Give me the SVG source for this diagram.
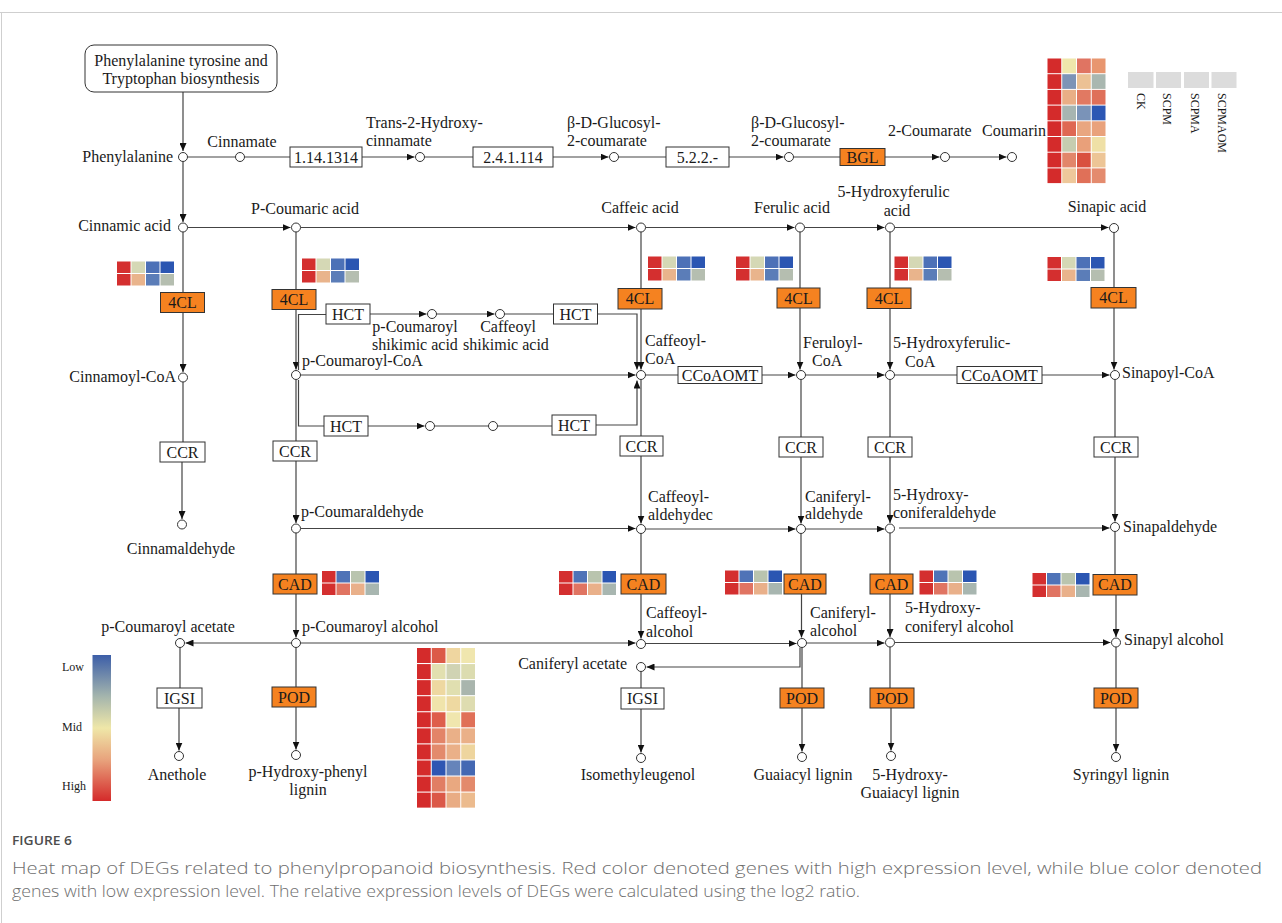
<svg xmlns="http://www.w3.org/2000/svg" xmlns:xlink="http://www.w3.org/1999/xlink" width="1282" height="923" viewBox="0 0 1282 923">
<style>
text{font-family:"Liberation Serif","Times New Roman",serif;font-size:16px;fill:#1a1a1a}
.c{text-anchor:middle}
.e{text-anchor:end}
.nd{fill:#fff;stroke:#333;stroke-width:1}
.bx{fill:#fff;stroke:#333;stroke-width:1}
.ob{fill:#f58220;stroke:#333;stroke-width:1}
.ln{fill:none;stroke:#444;stroke-width:1.2}
.ar{fill:none;stroke:#444;stroke-width:1.2;marker-end:url(#ah)}
.lg{font-size:12px}
.cap{font-family:"Open Sans","Liberation Sans",sans-serif;fill:#6e6e6e;font-size:16.5px;font-weight:300}
</style>
<defs>
<marker id="ah" markerWidth="8" markerHeight="7" refX="8" refY="3.5" orient="auto" markerUnits="userSpaceOnUse"><path d="M0,0L8,3.5L0,7z" fill="#111"/></marker>
<linearGradient id="cb" x1="0" y1="0" x2="0" y2="1">
<stop offset="0" stop-color="#3c5ea8"/><stop offset="0.28" stop-color="#a3b4ad"/><stop offset="0.5" stop-color="#efe7a8"/><stop offset="0.72" stop-color="#e8a27c"/><stop offset="1" stop-color="#d42a2a"/>
</linearGradient>
<g id="hm4cl">
<rect x="0" y="0" width="13.5" height="11.5" fill="#d42f2f"/><rect x="14.5" y="0" width="13.5" height="11.5" fill="#d5d8b5"/><rect x="29" y="0" width="13.5" height="11.5" fill="#4d71b7"/><rect x="43.5" y="0" width="13.5" height="11.5" fill="#2b56b2"/>
<rect x="0" y="12.5" width="13.5" height="11.5" fill="#d42f2f"/><rect x="14.5" y="12.5" width="13.5" height="11.5" fill="#e9b48c"/><rect x="29" y="12.5" width="13.5" height="11.5" fill="#5b7db8"/><rect x="43.5" y="12.5" width="13.5" height="11.5" fill="#b5beb0"/>
</g>
<g id="hmcad">
<rect x="0" y="0" width="13.5" height="11.5" fill="#d42f2f"/><rect x="14.5" y="0" width="13.5" height="11.5" fill="#4f73b7"/><rect x="29" y="0" width="13.5" height="11.5" fill="#b9c4ae"/><rect x="43.5" y="0" width="13.5" height="11.5" fill="#2b56b2"/>
<rect x="0" y="12.5" width="13.5" height="11.5" fill="#d42f2f"/><rect x="14.5" y="12.5" width="13.5" height="11.5" fill="#e07462"/><rect x="29" y="12.5" width="13.5" height="11.5" fill="#e9b08a"/><rect x="43.5" y="12.5" width="13.5" height="11.5" fill="#a8b6b0"/>
</g>
</defs>
<rect width="1282" height="923" fill="#fff"/>
<line x1="0" y1="12.5" x2="1282" y2="12.5" stroke="#cfcfcf" stroke-width="1"/>
<line x1="1.5" y1="12.5" x2="1.5" y2="923" stroke="#cfcfcf" stroke-width="1"/>

<g id="connectors">
<path class="ar" d="M183,92V151"/>
<path class="ln" d="M187.5,157H235.5"/>
<path class="ln" d="M244.5,157H290"/>
<path class="ar" d="M362,157H414.5"/>
<path class="ln" d="M424.5,157H473"/>
<path class="ar" d="M553,157H608.5"/>
<path class="ln" d="M618.5,157H666"/>
<path class="ar" d="M729,157H783.5"/>
<path class="ln" d="M793.5,157H840"/>
<path class="ar" d="M885,157H939.5"/>
<path class="ar" d="M949.5,157H1006.5"/>
<path class="ar" d="M183,161.5V222"/>
<path class="ar" d="M187.5,227.5H290.5"/>
<path class="ar" d="M300.5,227.5H635.5"/>
<path class="ar" d="M645.5,227.5H794.5"/>
<path class="ar" d="M804.5,227.5H884.5"/>
<path class="ar" d="M894.5,227.5H1108.5"/>
<path class="ln" d="M183,232V292.5"/>
<path class="ar" d="M183,312.5V372"/>
<path class="ln" d="M183,382V442"/>
<path class="ar" d="M182,462V519"/>
<path class="ln" d="M296,232V289.5"/>
<path class="ar" d="M296,309.5V369.5"/>
<path class="ln" d="M298.5,370V314.5H326"/>
<path class="ar" d="M370,314H426.5"/>
<path class="ar" d="M436.5,314H494.5"/>
<path class="ln" d="M504.5,314H553.5"/>
<path class="ar" d="M597.5,314H637V369.5"/>
<path class="ar" d="M300.5,375H635.5"/>
<path class="ln" d="M298.5,380V426H324"/>
<path class="ar" d="M368,426H424.5"/>
<path class="ln" d="M434.5,426H488.5"/>
<path class="ln" d="M497.5,426H552"/>
<path class="ar" d="M596,425H637V380.5"/>
<path class="ln" d="M296,379.5V441"/>
<path class="ar" d="M296,461V523"/>
<path class="ln" d="M296,533V574"/>
<path class="ar" d="M296,594V637.5"/>
<path class="ln" d="M296,647.5V687"/>
<path class="ar" d="M296,707V749.5"/>
<path class="ar" d="M291.5,643H185.5"/>
<path class="ln" d="M180,647.5V688"/>
<path class="ar" d="M179,708V750.5"/>
<path class="ln" d="M645.5,375H678"/>
<path class="ar" d="M762,375H795.5"/>
<path class="ar" d="M805.5,375H884.5"/>
<path class="ln" d="M894.5,375H957"/>
<path class="ar" d="M1042,375H1109.5"/>
<path class="ln" d="M641,232V288.5"/>
<path class="ar" d="M641,309V369.5"/>
<path class="ln" d="M641,379.5V436"/>
<path class="ar" d="M641,456V523.5"/>
<path class="ln" d="M641,533.5V574"/>
<path class="ar" d="M641,594V638.5"/>
<path class="ln" d="M641,671.5V688"/>
<path class="ar" d="M641,709V752.5"/>
<path class="ln" d="M800,232V288"/>
<path class="ar" d="M800,308V369.5"/>
<path class="ln" d="M801,379.5V437"/>
<path class="ar" d="M801,457V523.5"/>
<path class="ln" d="M801,533.5V574"/>
<path class="ar" d="M801.5,594V637.5"/>
<path class="ln" d="M802,647.5V688"/>
<path class="ar" d="M802,708V751.5"/>
<path class="ar" d="M800,647.5V667H646.5"/>
<path class="ln" d="M890,232V288"/>
<path class="ar" d="M890,308.5V369.5"/>
<path class="ln" d="M890,379.5V437"/>
<path class="ar" d="M890,457V523"/>
<path class="ln" d="M890,533V574"/>
<path class="ar" d="M890,594V637"/>
<path class="ln" d="M890,647V688"/>
<path class="ar" d="M891,708V750.5"/>
<path class="ln" d="M1114,232.5V287.5"/>
<path class="ar" d="M1114,308V369.5"/>
<path class="ln" d="M1115,379.5V437"/>
<path class="ar" d="M1115,457V521.5"/>
<path class="ln" d="M1115,531.5V574.5"/>
<path class="ar" d="M1116,595V637"/>
<path class="ln" d="M1116,647V688"/>
<path class="ar" d="M1116,708V751.5"/>
<path class="ar" d="M300.5,528.5H635.5"/>
<path class="ar" d="M645.5,529H795.5"/>
<path class="ar" d="M805.5,529H884.5"/>
<path class="ar" d="M899,528H1109.5"/>
<path class="ar" d="M300.5,643H635.5"/>
<path class="ar" d="M645.5,643.5H796.5"/>
<path class="ar" d="M806.5,643H884.5"/>
<path class="ar" d="M894.5,642.5H1110.5"/>
</g>

<g id="n-source"><rect x="85" y="45" width="192" height="47" rx="9" class="bx"/><text x="181" y="66" class="c">Phenylalanine tyrosine and</text><text x="181" y="84" class="c">Tryptophan biosynthesis</text></g>
<g id="n-phenylalanine"><circle cx="183" cy="157" r="4.5" class="nd"/><text x="173" y="162" class="e">Phenylalanine</text></g>
<g id="n-cinnamate"><circle cx="240" cy="157" r="4.5" class="nd"/><text x="242" y="147" class="c">Cinnamate</text></g>
<g id="e-11413"><rect x="290" y="147" width="72" height="20" class="bx"/><text x="326" y="162.5" class="c">1.14.1314</text></g>
<g id="n-trans2"><circle cx="420" cy="157" r="4.5" class="nd"/><text x="366" y="128">Trans-2-Hydroxy-</text><text x="366" y="146">cinnamate</text></g>
<g id="e-241114"><rect x="473" y="147" width="80" height="20" class="bx"/><text x="513" y="162.5" class="c">2.4.1.114</text></g>
<g id="n-glucosyl1"><circle cx="614" cy="157" r="4.5" class="nd"/><text x="567" y="128">β-D-Glucosyl-</text><text x="567" y="146">2-coumarate</text></g>
<g id="e-522"><rect x="666" y="147" width="63" height="20" class="bx"/><text x="697.5" y="162.5" class="c">5.2.2.-</text></g>
<g id="n-glucosyl2"><circle cx="789" cy="157" r="4.5" class="nd"/><text x="751" y="128">β-D-Glucosyl-</text><text x="751" y="146">2-coumarate</text></g>
<g id="e-bgl"><rect x="840" y="148.5" width="45" height="17" class="ob"/><text x="862.5" y="162.5" class="c">BGL</text></g>
<g id="n-2coumarate"><circle cx="945" cy="157" r="4.5" class="nd"/><text x="888" y="136">2-Coumarate</text></g>
<g id="n-coumarin"><circle cx="1012" cy="157" r="4.5" class="nd"/><text x="982" y="136">Coumarin</text></g>

<g id="n-cinnamic"><circle cx="183" cy="227.5" r="4.5" class="nd"/><text x="171" y="231" class="e">Cinnamic  acid</text></g>
<g id="n-pcoumaric"><circle cx="296" cy="227.5" r="4.5" class="nd"/><text x="305" y="214" class="c">P-Coumaric  acid</text></g>
<g id="n-caffeic"><circle cx="641" cy="227.5" r="4.5" class="nd"/><text x="640" y="213" class="c">Caffeic  acid</text></g>
<g id="n-ferulic"><circle cx="800" cy="227.5" r="4.5" class="nd"/><text x="792" y="213" class="c">Ferulic  acid</text></g>
<g id="n-5ohferulic"><circle cx="890" cy="227.5" r="4.5" class="nd"/><text x="893.5" y="197" class="c">5-Hydroxyferulic</text><text x="897" y="216" class="c">acid</text></g>
<g id="n-sinapic"><circle cx="1114" cy="228" r="4.5" class="nd"/><text x="1107" y="212" class="c">Sinapic  acid</text></g>

<g id="hm-4cl">
<use xlink:href="#hm4cl" x="117" y="261.5"/>
<use xlink:href="#hm4cl" x="302" y="258.5"/>
<use xlink:href="#hm4cl" x="648" y="256.5"/>
<use xlink:href="#hm4cl" x="736" y="256.5"/>
<use xlink:href="#hm4cl" x="894.5" y="256.5"/>
<use xlink:href="#hm4cl" x="1047.5" y="257"/>
</g>
<g id="e-4cl-a"><rect x="160.5" y="292.5" width="44" height="20" class="ob"/><text x="182.5" y="308" class="c">4CL</text></g>
<g id="e-4cl-b"><rect x="272" y="289.5" width="44" height="20" class="ob"/><text x="294" y="305" class="c">4CL</text></g>
<g id="e-4cl-c"><rect x="618" y="288.5" width="44" height="20.5" class="ob"/><text x="640" y="304" class="c">4CL</text></g>
<g id="e-4cl-d"><rect x="777" y="288" width="43" height="20" class="ob"/><text x="798.5" y="303.5" class="c">4CL</text></g>
<g id="e-4cl-e"><rect x="867" y="288" width="44" height="20.5" class="ob"/><text x="889" y="303.5" class="c">4CL</text></g>
<g id="e-4cl-f"><rect x="1091" y="287.5" width="45" height="20.5" class="ob"/><text x="1113.5" y="303" class="c">4CL</text></g>

<g id="e-hct1"><rect x="326" y="304" width="44" height="20" class="bx"/><text x="348" y="319.5" class="c">HCT</text></g>
<g id="n-pcoumaroylshik"><circle cx="432" cy="314" r="4.5" class="nd"/><text x="415" y="332" class="c">p-Coumaroyl</text><text x="415" y="350" class="c">shikimic acid</text></g>
<g id="n-caffeoylshik"><circle cx="500" cy="314" r="4.5" class="nd"/><text x="508" y="332" class="c">Caffeoyl</text><text x="506" y="350" class="c">shikimic acid</text></g>
<g id="e-hct2"><rect x="553.5" y="304" width="44" height="20" class="bx"/><text x="575.5" y="319.5" class="c">HCT</text></g>
<g id="e-hct3"><rect x="324" y="416" width="44" height="20" class="bx"/><text x="346" y="431.5" class="c">HCT</text></g>
<g id="n-hct3out"><circle cx="430" cy="426" r="4.5" class="nd"/></g>
<g id="n-hct4in"><circle cx="493" cy="426" r="4.5" class="nd"/></g>
<g id="e-hct4"><rect x="552" y="415" width="44" height="20" class="bx"/><text x="574" y="430.5" class="c">HCT</text></g>

<g id="n-cinnamoylcoa"><circle cx="183" cy="377.5" r="4.5" class="nd"/><text x="176" y="382" class="e">Cinnamoyl-CoA</text></g>
<g id="n-pcoumaroylcoa"><circle cx="296" cy="375" r="4.5" class="nd"/><text x="302" y="366">p-Coumaroyl-CoA</text></g>
<g id="n-caffeoylcoa"><circle cx="641" cy="375" r="4.5" class="nd"/><text x="645" y="346">Caffeoyl-</text><text x="645" y="364">CoA</text></g>
<g id="e-ccoaomt1"><rect x="678" y="366.5" width="84" height="17" class="bx"/><text x="720" y="380.5" class="c">CCoAOMT</text></g>
<g id="n-feruloylcoa"><circle cx="801" cy="375" r="4.5" class="nd"/><text x="803" y="348">Feruloyl-</text><text x="812" y="366">CoA</text></g>
<g id="n-5ohferuloylcoa"><circle cx="890" cy="375" r="4.5" class="nd"/><text x="893" y="348">5-Hydroxyferulic-</text><text x="905" y="367">CoA</text></g>
<g id="e-ccoaomt2"><rect x="957" y="366.5" width="85" height="17" class="bx"/><text x="999.5" y="380.5" class="c">CCoAOMT</text></g>
<g id="n-sinapoylcoa"><circle cx="1115" cy="375" r="4.5" class="nd"/><text x="1122" y="378">Sinapoyl-CoA</text></g>

<g id="e-ccr-a"><rect x="160" y="442" width="45" height="20" class="bx"/><text x="182.5" y="457.5" class="c">CCR</text></g>
<g id="e-ccr-b"><rect x="273" y="441" width="44" height="20" class="bx"/><text x="295" y="456.5" class="c">CCR</text></g>
<g id="e-ccr-c"><rect x="620" y="436" width="43" height="20" class="bx"/><text x="641.5" y="451.5" class="c">CCR</text></g>
<g id="e-ccr-d"><rect x="779" y="437" width="44" height="20" class="bx"/><text x="801" y="452.5" class="c">CCR</text></g>
<g id="e-ccr-e"><rect x="868" y="437" width="44" height="20" class="bx"/><text x="890" y="452.5" class="c">CCR</text></g>
<g id="e-ccr-f"><rect x="1094" y="437" width="44" height="20" class="bx"/><text x="1116" y="452.5" class="c">CCR</text></g>

<g id="n-cinnamaldehyde"><circle cx="182" cy="524.5" r="4.5" class="nd"/><text x="181" y="554" class="c">Cinnamaldehyde</text></g>
<g id="n-pcoumaraldehyde"><circle cx="296" cy="528.5" r="4.5" class="nd"/><text x="301" y="517">p-Coumaraldehyde</text></g>
<g id="n-caffeoylald"><circle cx="641" cy="529" r="4.5" class="nd"/><text x="648" y="502">Caffeoyl-</text><text x="648" y="520">aldehydec</text></g>
<g id="n-caniferylald"><circle cx="801" cy="529" r="4.5" class="nd"/><text x="805" y="502">Caniferyl-</text><text x="805" y="519">aldehyde</text></g>
<g id="n-5ohconiferald"><circle cx="890" cy="528.5" r="4.5" class="nd"/><text x="893" y="500">5-Hydroxy-</text><text x="893" y="518">coniferaldehyde</text></g>
<g id="n-sinapaldehyde"><circle cx="1115" cy="527" r="4.5" class="nd"/><text x="1123" y="532">Sinapaldehyde</text></g>

<g id="hm-cad">
<use xlink:href="#hmcad" x="322" y="571"/>
<use xlink:href="#hmcad" x="559" y="571"/>
<use xlink:href="#hmcad" x="725" y="570.5"/>
<use xlink:href="#hmcad" x="919.5" y="570.5"/>
<use xlink:href="#hmcad" x="1032.5" y="573"/>
</g>
<g id="e-cad-b"><rect x="273" y="574" width="44" height="20" class="ob"/><text x="295" y="589.5" class="c">CAD</text></g>
<g id="e-cad-c"><rect x="621" y="574" width="45" height="20" class="ob"/><text x="643.5" y="589.5" class="c">CAD</text></g>
<g id="e-cad-d"><rect x="784" y="574" width="42" height="20" class="ob"/><text x="805" y="589.5" class="c">CAD</text></g>
<g id="e-cad-e"><rect x="870" y="574" width="43" height="20" class="ob"/><text x="891.5" y="589.5" class="c">CAD</text></g>
<g id="e-cad-f"><rect x="1093" y="574.5" width="44" height="20.5" class="ob"/><text x="1115" y="590" class="c">CAD</text></g>

<g id="n-pcoumaroylacetate"><circle cx="180" cy="643" r="4.5" class="nd"/><text x="168" y="632" class="c">p-Coumaroyl acetate</text></g>
<g id="n-pcoumaroylalcohol"><circle cx="296" cy="643" r="4.5" class="nd"/><text x="302" y="632">p-Coumaroyl alcohol</text></g>
<g id="n-caffeoylalcohol"><circle cx="641" cy="644" r="4.5" class="nd"/><text x="646" y="618">Caffeoyl-</text><text x="646" y="637">alcohol</text></g>
<g id="n-caniferylalcohol"><circle cx="802" cy="643" r="4.5" class="nd"/><text x="810" y="618">Caniferyl-</text><text x="810" y="636">alcohol</text></g>
<g id="n-5ohconiferylalcohol"><circle cx="890" cy="642.5" r="4.5" class="nd"/><text x="905" y="613">5-Hydroxy-</text><text x="905" y="632">coniferyl alcohol</text></g>
<g id="n-sinapylalcohol"><circle cx="1116" cy="642.5" r="4.5" class="nd"/><text x="1124" y="645">Sinapyl alcohol</text></g>
<g id="n-caniferylacetate"><circle cx="641" cy="667" r="4.5" class="nd"/><text x="627" y="669" class="e">Caniferyl acetate</text></g>

<g id="e-igsi-a"><rect x="157" y="688" width="45" height="20" class="bx"/><text x="179.5" y="703.5" class="c">IGSI</text></g>
<g id="e-pod-b"><rect x="272" y="687" width="44" height="20" class="ob"/><text x="294" y="702.5" class="c">POD</text></g>
<g id="e-igsi-c"><rect x="621" y="688" width="43" height="21" class="bx"/><text x="642.5" y="704" class="c">IGSI</text></g>
<g id="e-pod-d"><rect x="780" y="688" width="44" height="20" class="ob"/><text x="802" y="703.5" class="c">POD</text></g>
<g id="e-pod-e"><rect x="870" y="688" width="44" height="20" class="ob"/><text x="892" y="703.5" class="c">POD</text></g>
<g id="e-pod-f"><rect x="1094" y="688" width="44" height="20" class="ob"/><text x="1116" y="703.5" class="c">POD</text></g>

<g id="n-anethole"><circle cx="179" cy="756" r="4.5" class="nd"/><text x="177" y="780" class="c">Anethole</text></g>
<g id="n-phlignin"><circle cx="296" cy="755" r="4.5" class="nd"/><text x="308" y="777" class="c">p-Hydroxy-phenyl</text><text x="308" y="795" class="c">lignin</text></g>
<g id="n-isomethyleugenol"><circle cx="641" cy="758" r="4.5" class="nd"/><text x="638" y="780" class="c">Isomethyleugenol</text></g>
<g id="n-guaiacyl"><circle cx="802" cy="757" r="4.5" class="nd"/><text x="803" y="780" class="c">Guaiacyl lignin</text></g>
<g id="n-5ohguaiacyl"><circle cx="891" cy="756" r="4.5" class="nd"/><text x="910" y="780" class="c">5-Hydroxy-</text><text x="910" y="798" class="c">Guaiacyl lignin</text></g>
<g id="n-syringyl"><circle cx="1116" cy="757" r="4.5" class="nd"/><text x="1121" y="780" class="c">Syringyl lignin</text></g>

<g id="hm-top">
<rect x="1047.5" y="58.5" width="13.75" height="14.7" fill="#d42b2b"/><rect x="1062.25" y="58.5" width="13.75" height="14.7" fill="#efe7ac"/><rect x="1077" y="58.5" width="13.75" height="14.7" fill="#e07462"/><rect x="1091.75" y="58.5" width="13.75" height="14.7" fill="#e8966f"/>
<rect x="1047.5" y="74.2" width="13.75" height="14.7" fill="#d42b2b"/><rect x="1062.25" y="74.2" width="13.75" height="14.7" fill="#7d94b6"/><rect x="1077" y="74.2" width="13.75" height="14.7" fill="#ecc194"/><rect x="1091.75" y="74.2" width="13.75" height="14.7" fill="#a9b7b0"/>
<rect x="1047.5" y="89.9" width="13.75" height="14.7" fill="#d42b2b"/><rect x="1062.25" y="89.9" width="13.75" height="14.7" fill="#e9ae86"/><rect x="1077" y="89.9" width="13.75" height="14.7" fill="#e17962"/><rect x="1091.75" y="89.9" width="13.75" height="14.7" fill="#df705a"/>
<rect x="1047.5" y="105.6" width="13.75" height="14.7" fill="#d42b2b"/><rect x="1062.25" y="105.6" width="13.75" height="14.7" fill="#a7b5b1"/><rect x="1077" y="105.6" width="13.75" height="14.7" fill="#7a93b8"/><rect x="1091.75" y="105.6" width="13.75" height="14.7" fill="#2c57b4"/>
<rect x="1047.5" y="121.3" width="13.75" height="14.7" fill="#d42b2b"/><rect x="1062.25" y="121.3" width="13.75" height="14.7" fill="#df6853"/><rect x="1077" y="121.3" width="13.75" height="14.7" fill="#e9a680"/><rect x="1091.75" y="121.3" width="13.75" height="14.7" fill="#e9a27c"/>
<rect x="1047.5" y="137" width="13.75" height="14.7" fill="#d42b2b"/><rect x="1062.25" y="137" width="13.75" height="14.7" fill="#c6cdb0"/><rect x="1077" y="137" width="13.75" height="14.7" fill="#e9a07a"/><rect x="1091.75" y="137" width="13.75" height="14.7" fill="#efe0a6"/>
<rect x="1047.5" y="152.7" width="13.75" height="14.7" fill="#d42b2b"/><rect x="1062.25" y="152.7" width="13.75" height="14.7" fill="#e2866a"/><rect x="1077" y="152.7" width="13.75" height="14.7" fill="#d9503f"/><rect x="1091.75" y="152.7" width="13.75" height="14.7" fill="#edc596"/>
<rect x="1047.5" y="168.4" width="13.75" height="14.7" fill="#d42b2b"/><rect x="1062.25" y="168.4" width="13.75" height="14.7" fill="#eec89b"/><rect x="1077" y="168.4" width="13.75" height="14.7" fill="#e07058"/><rect x="1091.75" y="168.4" width="13.75" height="14.7" fill="#e48b6e"/>
</g>

<g id="legend-samples">
<rect x="1128" y="72" width="25.5" height="16" fill="#dcdcdc"/>
<rect x="1156" y="72" width="25" height="16" fill="#dcdcdc"/>
<rect x="1184" y="72" width="25" height="16" fill="#dcdcdc"/>
<rect x="1211.5" y="72" width="25" height="16" fill="#dcdcdc"/>
<text class="lg" transform="translate(1136.5,93) rotate(90)">CK</text>
<text class="lg" transform="translate(1163,93) rotate(90)">SCPM</text>
<text class="lg" transform="translate(1191,93) rotate(90)">SCPMA</text>
<text class="lg" transform="translate(1217.5,93) rotate(90)">SCPMAOM</text>
</g>

<g id="hm-big">
<rect x="417" y="648" width="13.75" height="15" fill="#d42b2b"/><rect x="431.75" y="648" width="13.75" height="15" fill="#dc5a48"/><rect x="446.5" y="648" width="13.75" height="15" fill="#efd6a0"/><rect x="461.25" y="648" width="13.75" height="15" fill="#f0e6ae"/>
<rect x="417" y="664.07" width="13.75" height="15" fill="#d42b2b"/><rect x="431.75" y="664.07" width="13.75" height="15" fill="#e2e0b0"/><rect x="446.5" y="664.07" width="13.75" height="15" fill="#d0d3b3"/><rect x="461.25" y="664.07" width="13.75" height="15" fill="#dcdcb0"/>
<rect x="417" y="680.14" width="13.75" height="15" fill="#d42b2b"/><rect x="431.75" y="680.14" width="13.75" height="15" fill="#eed8a1"/><rect x="446.5" y="680.14" width="13.75" height="15" fill="#e0dfb0"/><rect x="461.25" y="680.14" width="13.75" height="15" fill="#a9b5ad"/>
<rect x="417" y="696.21" width="13.75" height="15" fill="#d42b2b"/><rect x="431.75" y="696.21" width="13.75" height="15" fill="#f0e4ab"/><rect x="446.5" y="696.21" width="13.75" height="15" fill="#eed9a1"/><rect x="461.25" y="696.21" width="13.75" height="15" fill="#dedcb0"/>
<rect x="417" y="712.28" width="13.75" height="15" fill="#d42b2b"/><rect x="431.75" y="712.28" width="13.75" height="15" fill="#de5e4b"/><rect x="446.5" y="712.28" width="13.75" height="15" fill="#f0e6ae"/><rect x="461.25" y="712.28" width="13.75" height="15" fill="#e07058"/>
<rect x="417" y="728.35" width="13.75" height="15" fill="#d42b2b"/><rect x="431.75" y="728.35" width="13.75" height="15" fill="#e38468"/><rect x="446.5" y="728.35" width="13.75" height="15" fill="#eab088"/><rect x="461.25" y="728.35" width="13.75" height="15" fill="#eab088"/>
<rect x="417" y="744.42" width="13.75" height="15" fill="#d42b2b"/><rect x="431.75" y="744.42" width="13.75" height="15" fill="#e38a6c"/><rect x="446.5" y="744.42" width="13.75" height="15" fill="#eab088"/><rect x="461.25" y="744.42" width="13.75" height="15" fill="#eed59e"/>
<rect x="417" y="760.49" width="13.75" height="15" fill="#d42b2b"/><rect x="431.75" y="760.49" width="13.75" height="15" fill="#2e56b3"/><rect x="446.5" y="760.49" width="13.75" height="15" fill="#6684ba"/><rect x="461.25" y="760.49" width="13.75" height="15" fill="#4468b3"/>
<rect x="417" y="776.56" width="13.75" height="15" fill="#d42b2b"/><rect x="431.75" y="776.56" width="13.75" height="15" fill="#e17e64"/><rect x="446.5" y="776.56" width="13.75" height="15" fill="#e9a880"/><rect x="461.25" y="776.56" width="13.75" height="15" fill="#e38a6c"/>
<rect x="417" y="792.63" width="13.75" height="15" fill="#d42b2b"/><rect x="431.75" y="792.63" width="13.75" height="15" fill="#db5848"/><rect x="446.5" y="792.63" width="13.75" height="15" fill="#e9ac84"/><rect x="461.25" y="792.63" width="13.75" height="15" fill="#ecbb8e"/>
</g>

<g id="colorbar">
<rect x="92.5" y="655" width="18.5" height="146" fill="url(#cb)"/>
<text class="lg" x="62" y="671">Low</text>
<text class="lg" x="62" y="731">Mid</text>
<text class="lg" x="62" y="790">High</text>
</g>

<g id="caption">
<text x="12" y="845" style="font-family:'Open Sans','Liberation Sans',sans-serif;font-size:12px;font-weight:600;fill:#4d4d4d" textLength="60" lengthAdjust="spacingAndGlyphs">FIGURE 6</text>
<text class="cap" x="12" y="874" textLength="1250" lengthAdjust="spacingAndGlyphs">Heat map of DEGs related to phenylpropanoid biosynthesis. Red color denoted genes with high expression level, while blue color denoted</text>
<text class="cap" x="12" y="897" textLength="848" lengthAdjust="spacingAndGlyphs">genes with low expression level. The relative expression levels of DEGs were calculated using the log2 ratio.</text>
</g>
</svg>
